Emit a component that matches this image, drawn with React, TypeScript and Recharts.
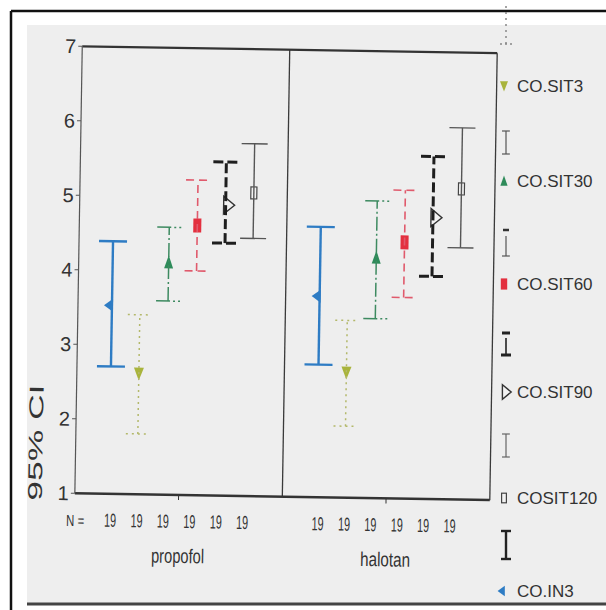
import React from 'react';
import { BarChart, Bar, XAxis, YAxis, ErrorBar, CartesianGrid, ReferenceLine } from 'recharts';

const FONT = '"Liberation Sans", Arial, sans-serif';

const groups = ['propofol', 'halotan'];
const groupCounts = [
  [19, 19, 19, 19, 19, 19],
  [19, 19, 19, 19, 19, 19],
];
const yTicks = [1, 2, 3, 4, 5, 6, 7];

// 95% CI: lower bound, mean, upper bound (propofol, halotan)
const in3Low = [2.71, 2.78];
const in3Mean = [3.53, 3.7];
const in3High = [4.39, 4.63];

const sit3Low = [1.81, 1.96];
const sit3Mean = [2.62, 2.68];
const sit3High = [3.41, 3.38];

const sit30Low = [3.6, 3.41];
const sit30Mean = [4.12, 4.23];
const sit30High = [4.59, 4.99];

const sit60Low = [4.01, 3.7];
const sit60Mean = [4.62, 4.44];
const sit60High = [5.23, 5.14];

const sit90Low = [4.39, 3.99];
const sit90Mean = [4.9, 4.78];
const sit90High = [5.48, 5.6];

const sit120Low = [4.46, 4.38];
const sit120Mean = [5.07, 5.17];
const sit120High = [5.73, 5.99];

type Kind = 'left' | 'down' | 'up' | 'square' | 'right' | 'box';

const series = [
  { key: 'in3', name: 'CO.IN3', low: in3Low, mean: in3Mean, high: in3High, marker: 'left' as Kind, color: '#2e7cc4', line: '#2e7cc4', width: 2.4, dash: undefined, cap: 14 },
  { key: 'sit3', name: 'CO.SIT3', low: sit3Low, mean: sit3Mean, high: sit3High, marker: 'down' as Kind, color: '#a9b43c', line: '#b3b86a', width: 1.5, dash: '2 4', cap: 12 },
  { key: 'sit30', name: 'CO.SIT30', low: sit30Low, mean: sit30Mean, high: sit30High, marker: 'up' as Kind, color: '#2e8b5a', line: '#3d8a60', width: 1.5, dash: '14 3 2 3', cap: 12 },
  { key: 'sit60', name: 'CO.SIT60', low: sit60Low, mean: sit60Mean, high: sit60High, marker: 'square' as Kind, color: '#e3303f', line: '#e05a6c', width: 1.6, dash: '8 5', cap: 12 },
  { key: 'sit90', name: 'CO.SIT90', low: sit90Low, mean: sit90Mean, high: sit90High, marker: 'right' as Kind, color: '#333', line: '#1e1e1e', width: 3, dash: '10 4', cap: 13 },
  { key: 'sit120', name: 'COSIT120', low: sit120Low, mean: sit120Mean, high: sit120High, marker: 'box' as Kind, color: '#444', line: '#555', width: 1.4, dash: undefined, cap: 13 },
];

const legendOrder = ['sit3', 'sit30', 'sit60', 'sit90', 'sit120', 'in3'];

const data = groups.map((group, i) => {
  const row: Record<string, any> = { group };
  series.forEach((s) => {
    row[s.key] = s.mean[i];
    row[s.key + 'Err'] = [s.mean[i] - s.low[i], s.high[i] - s.mean[i]];
  });
  return row;
});

function Marker({ kind, cx, cy, color, s = 1 }: { kind: Kind; cx: number; cy: number; color: string; s?: number }) {
  switch (kind) {
    case 'left':
      return <polygon points={`${cx - 8 * s},${cy} ${cx + 1 * s},${cy - 6.5 * s} ${cx + 1 * s},${cy + 6.5 * s}`} fill={color} />;
    case 'down':
      return <polygon points={`${cx - 5 * s},${cy - 6 * s} ${cx + 5 * s},${cy - 6 * s} ${cx},${cy + 7 * s}`} fill={color} />;
    case 'up':
      return <polygon points={`${cx - 4.5 * s},${cy + 6 * s} ${cx + 4.5 * s},${cy + 6 * s} ${cx},${cy - 7 * s}`} fill={color} />;
    case 'square':
      return <rect x={cx - 4 * s} y={cy - 7 * s} width={8 * s} height={14 * s} fill={color} />;
    case 'right':
      return (
        <polygon
          points={`${cx - 2 * s},${cy - 9 * s} ${cx - 2 * s},${cy + 9 * s} ${cx + 9 * s},${cy}`}
          fill="#f2f2f2"
          stroke={color}
          strokeWidth={1.4}
        />
      );
    default:
      return <rect x={cx - 3 * s} y={cy - 6 * s} width={6 * s} height={12 * s} fill="#f2f2f2" stroke={color} strokeWidth={1.2} />;
  }
}

function GroupTick(props: any) {
  const { x, y, payload } = props;
  const gi = groups.indexOf(payload.value);
  const counts = groupCounts[gi] || [];
  const mid = (counts.length - 1) / 2;
  return (
    <g fontFamily={FONT} fill="#333">
      {gi === 0 && (
        <text x={x - 103} y={y + 26} textAnchor="middle" fontSize={16} textLength={18} lengthAdjust="spacingAndGlyphs">
          N =
        </text>
      )}
      {counts.map((n, k) => (
        <text
          key={k}
          x={x - 2 + (k - mid) * 26.4}
          y={y + 26}
          textAnchor="middle"
          fontSize={19}
          textLength={12}
          lengthAdjust="spacingAndGlyphs"
        >
          {n}
        </text>
      ))}
      <text
        x={x}
        y={y + 61}
        textAnchor="middle"
        fontSize={20}
        textLength={gi === 0 ? 53 : 50}
        lengthAdjust="spacingAndGlyphs"
      >
        {payload.value}
      </text>
    </g>
  );
}

function YLabel(props: any) {
  const vb = props.viewBox || { x: 38, y: 50, width: 40, height: 447 };
  const cx = vb.x;
  const cy = vb.y + vb.height - 50;
  return (
    <text
      x={cx}
      y={cy}
      transform={`rotate(-90, ${cx}, ${cy})`}
      textAnchor="middle"
      dominantBaseline="central"
      fontFamily={FONT}
      fontSize={20}
      fill="#333"
      textLength={116}
      lengthAdjust="spacingAndGlyphs"
    >
      95% CI
    </text>
  );
}

function LegendSample({ k, y }: { k: string; y: number }) {
  const x = 506;
  const g = '#555';
  if (k === 'sit3')
    return (
      <g stroke="#888" strokeWidth={1.5}>
        <line x1={x} y1={6} x2={x} y2={y + 14} strokeDasharray="2 4" />
        <line x1={x - 6} y1={y + 14} x2={x + 6} y2={y + 14} strokeDasharray="2 3" />
      </g>
    );
  if (k === 'sit30')
    return (
      <g stroke={g} strokeWidth={1.2}>
        <line x1={x - 4} y1={y - 11} x2={x + 4} y2={y - 11} />
        <line x1={x} y1={y - 11} x2={x} y2={y + 12} />
        <line x1={x - 4} y1={y + 12} x2={x + 4} y2={y + 12} />
      </g>
    );
  if (k === 'sit60')
    return (
      <g stroke={g}>
        <line x1={x - 3} y1={y - 13} x2={x + 3} y2={y - 13} strokeWidth={2.5} stroke="#333" />
        <line x1={x} y1={y - 7} x2={x} y2={y + 13} strokeWidth={1.2} />
        <line x1={x - 4} y1={y + 13} x2={x + 4} y2={y + 13} strokeWidth={1.2} />
      </g>
    );
  if (k === 'sit90')
    return (
      <g stroke="#222">
        <line x1={x - 4} y1={y - 10} x2={x + 4} y2={y - 10} strokeWidth={3} />
        <line x1={x} y1={y - 5} x2={x} y2={y + 11} strokeWidth={1.6} />
        <line x1={x - 5} y1={y + 12} x2={x + 5} y2={y + 12} strokeWidth={3} />
      </g>
    );
  if (k === 'sit120')
    return (
      <g stroke="#666" strokeWidth={1.2}>
        <line x1={x - 4} y1={y - 11} x2={x + 4} y2={y - 11} />
        <line x1={x} y1={y - 11} x2={x} y2={y + 12} />
        <line x1={x - 4} y1={y + 12} x2={x + 4} y2={y + 12} />
      </g>
    );
  return (
    <g stroke="#222" strokeWidth={2.4}>
      <line x1={x - 5} y1={y - 14} x2={x + 5} y2={y - 14} />
      <line x1={x} y1={y - 14} x2={x} y2={y + 14} />
      <line x1={x - 5} y1={y + 14} x2={x + 5} y2={y + 14} />
    </g>
  );
}

const legendLabelY = [86, 181, 284, 392, 498, 591];
const legendSampleY = [30, 142, 243, 343, 445, 545];

function LegendPanel() {
  return (
    <svg width={606} height={610} style={{ position: 'absolute', left: 0, top: 0 }}>
      {legendOrder.map((key, i) => {
        const s = series.find((d) => d.key === key)!;
        return (
          <g key={key}>
            <LegendSample k={key} y={legendSampleY[i]} />
            <Marker kind={s.marker} cx={504} cy={legendLabelY[i]} color={s.color} s={0.8} />
            <text x={517} y={legendLabelY[i]} dominantBaseline="central" fontFamily={FONT} fontSize={17} fill="#333">
              {s.name}
            </text>
          </g>
        );
      })}
    </svg>
  );
}

export default function App() {
  return (
    <div style={{ position: 'absolute', left: 0, top: 0, width: 606, height: 610, overflow: 'hidden', background: '#fff' }}>
      <svg width={606} height={610} style={{ position: 'absolute', left: 0, top: 0 }}>
        <rect x={27} y={25} width={579} height={578} fill="#eeeeee" />
        <line x1={11} y1={11} x2={606} y2={11} stroke="#111" strokeWidth={2.5} />
        <line x1={11} y1={11} x2={11} y2={610} stroke="#111" strokeWidth={2.5} />
        <line x1={27} y1={604} x2={606} y2={604} stroke="#444" strokeWidth={3} />
      </svg>
      <div style={{ position: 'absolute', left: 0, top: 0, transform: 'rotate(0.95deg)', transformOrigin: '303px 305px' }}>
        <BarChart
          width={606}
          height={610}
          data={data}
          margin={{ top: 50, right: 113, left: 38, bottom: 43 }}
          barGap={0}
          barSize={28}
        >
          <CartesianGrid
            horizontal={false}
            stroke="#3a3a3a"
            strokeWidth={1.3}
            verticalCoordinatesGenerator={({ offset }: any) => [offset.left + offset.width / 2, offset.left + offset.width]}
          />
          <ReferenceLine y={7} stroke="#333" strokeWidth={2.2} />
          <XAxis
            dataKey="group"
            height={70}
            tickSize={5}
            interval={0}
            axisLine={{ stroke: '#333', strokeWidth: 2.5 }}
            tickLine={{ stroke: '#333' }}
            tick={<GroupTick />}
          />
          <YAxis
            type="number"
            domain={[1, 7]}
            ticks={yTicks}
            interval={0}
            allowDataOverflow
            width={40}
            tickSize={4}
            axisLine={{ stroke: '#555', strokeWidth: 1.2 }}
            tickLine={{ stroke: '#555' }}
            tick={{ fontSize: 20, fill: '#333', fontFamily: FONT }}
            label={<YLabel />}
          />
          {series.map((s) => (
            <Bar
              key={s.key}
              dataKey={s.key}
              barSize={28}
              isAnimationActive={false}
              shape={(p: any) => <Marker kind={s.marker} cx={p.x + p.width / 2} cy={p.y} color={s.color} />}
            >
              <ErrorBar
                dataKey={s.key + 'Err'}
                width={s.cap}
                stroke={s.line}
                strokeWidth={s.width}
                strokeDasharray={s.dash}
                isAnimationActive={false}
              />
            </Bar>
          ))}
        </BarChart>
      </div>
      <LegendPanel />
    </div>
  );
}
